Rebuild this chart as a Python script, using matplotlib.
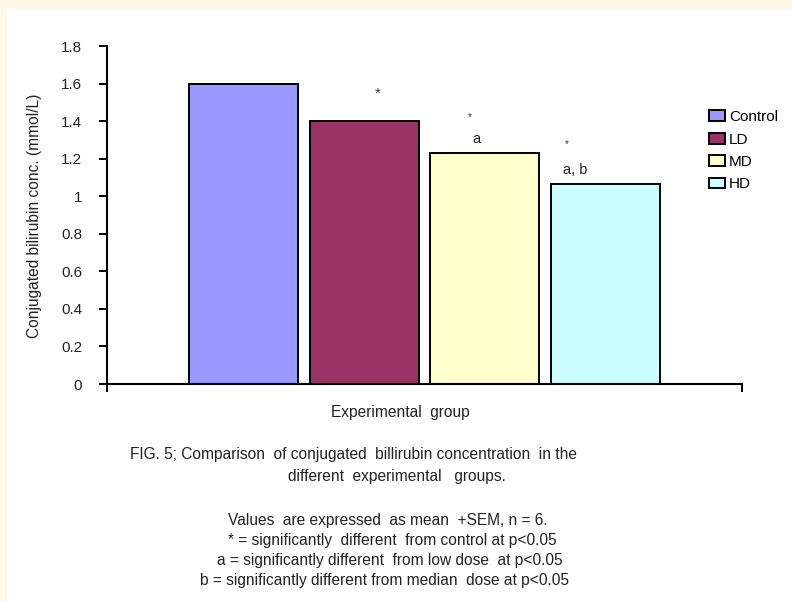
import matplotlib
matplotlib.use("Agg")
import matplotlib.pyplot as plt
from matplotlib.patches import Rectangle

plt.rcParams["font.family"] = ["Liberation Sans", "DejaVu Sans"]

# Data
groups = ["Control", "LD", "MD", "HD"]
values = [1.60, 1.40, 1.23, 1.065]
colors = ["#9999FF", "#993366", "#FFFFCC", "#CCFFFF"]
y_ticks = [0, 0.2, 0.4, 0.6, 0.8, 1, 1.2, 1.4, 1.6, 1.8]
y_tick_labels = ["0", "0.2", "0.4", "0.6", "0.8", "1", "1.2", "1.4", "1.6", "1.8"]
# significance marks per group: (star, letters)
sig_marks = [("", ""), ("*", ""), ("*", "a"), ("*", "a, b")]

W, H = 792, 601
fig = plt.figure(figsize=(W / 100, H / 100), dpi=100)
fig.patch.set_facecolor("#FEF9E6")

# white page area
fig.patches.append(Rectangle((7 / W, 0), 1 - 7 / W, 1 - 9 / H,
                             transform=fig.transFigure, facecolor="white",
                             edgecolor="none", zorder=-10))

def fx(px):
    return px / W

def fy(py):
    return 1 - py / H

ax = fig.add_axes([fx(107), fy(384), fx(742) - fx(107), fy(46) - fy(384)])
ax.set_facecolor("none")

# single category cluster of four bars
n = len(groups)
step = 0.19
width = 0.172
xs = [0.5 + (i - (n - 1) / 2) * step for i in range(n)]
bars = ax.bar(xs, values, width=width, color=colors, edgecolor="black",
              linewidth=1.4, zorder=2)

ax.set_xlim(0, 1)
ax.set_ylim(0, 1.8)
ax.set_yticks(y_ticks)
ax.set_yticklabels(y_tick_labels, fontsize=11, color="#222222")
ax.set_xticks([0, 1])
ax.set_xticklabels(["", ""])
ax.tick_params(axis="both", direction="out", length=6, width=1.4, color="black")
ax.tick_params(axis="y", pad=12)
for s in ["top", "right"]:
    ax.spines[s].set_visible(False)
for s in ["left", "bottom"]:
    ax.spines[s].set_linewidth(1.5)
    ax.spines[s].set_color("black")
    ax.spines[s].set_zorder(3)

# significance annotations (offsets in points relative to bar top centre)
star_offsets = [None, (10, 20), (-10.5, 26), (-28, 28.5)]
letter_offsets = [None, None, (-6, 10), (-21.5, 10)]
for i, (star, letters) in enumerate(sig_marks):
    if star:
        fs = 11 if i == 1 else 7
        ax.annotate(star, (xs[i], values[i]), xytext=star_offsets[i],
                    textcoords="offset points", ha="center", va="center",
                    fontsize=fs, color="#552255" if i == 1 else "#333333")
    if letters:
        ax.annotate(letters, (xs[i], values[i]), xytext=letter_offsets[i],
                    textcoords="offset points", ha="center", va="center",
                    fontsize=10.5, color="#222222")

# legend
fig.legend(handles=list(bars), labels=groups, loc="upper left",
           bbox_to_anchor=(fx(703), fy(104)), frameon=False, fontsize=11,
           handlelength=1.05, handleheight=0.7, handletextpad=0.25,
           labelspacing=0.55, borderaxespad=0)

# axis titles
fig.text(fx(35), fy(216), "Conjugated bilirubin conc. (mmol/L)", rotation=90,
         ha="center", va="center", fontsize=11.2, color="#222222")
fig.text(fx(400), fy(412), "Experimental  group", ha="center", va="center",
         fontsize=11.2, color="#222222")

# figure caption and notes
caption = [
    (353, 455, "FIG. 5; Comparison  of conjugated  billirubin concentration  in the"),
    (397, 476, "different  experimental   groups."),
    (388, 521, "Values  are expressed  as mean  +SEM, n = 6."),
    (392, 541, "* = significantly  different  from control at p<0.05"),
    (390, 561, "a = significantly different  from low dose  at p<0.05"),
    (385, 581, "b = significantly different from median  dose at p<0.05"),
]
for cx, cy, txt in caption:
    fig.text(fx(cx), fy(cy), txt, ha="center", va="center", fontsize=11.2,
             color="#222222")

fig.savefig("out.png", dpi=100, facecolor=fig.get_facecolor())
